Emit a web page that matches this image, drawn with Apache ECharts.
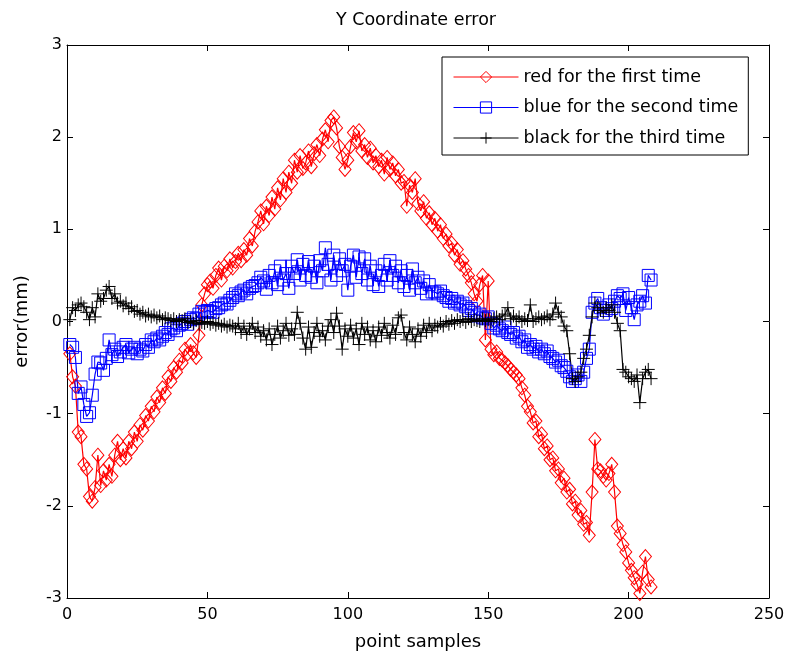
<!DOCTYPE html>
<html>
<head>
<meta charset="utf-8">
<script src="https://cdn.jsdelivr.net/npm/echarts@6/dist/echarts.min.js"></script>
<style>
html,body{margin:0;padding:0;background:#fff;}
#chart{width:790px;height:661px;}
</style>
</head>
<body>
<div id="chart"></div>
<script>
var titleText = 'Y Coordinate error';
var seriesNames = ['red for the first time', 'blue for the second time', 'black for the third time'];
var xTicks = [0, 50, 100, 150, 200, 250];
var yTicks = [-3, -2, -1, 0, 1, 2, 3];

var red = [
-0.35,-0.6,-0.7,-1.2,-1.25,-1.55,-1.6,-1.9,-1.95,-1.8,
-1.45,-1.78,-1.62,-1.72,-1.55,-1.68,-1.45,-1.3,-1.5,-1.38,
-1.48,-1.3,-1.38,-1.2,-1.3,-1.12,-1.18,-1.02,-1.08,-0.92,
-0.98,-0.82,-0.88,-0.72,-0.78,-0.6,-0.65,-0.5,-0.55,-0.42,
-0.45,-0.3,-0.35,-0.25,-0.34,-0.39,-0.15,0.18,0.3,0.4,
0.44,0.36,0.5,0.58,0.45,0.6,0.55,0.68,0.58,0.65,
0.74,0.66,0.78,0.72,0.9,0.82,0.98,1.08,1.2,1.06,
1.25,1.15,1.35,1.22,1.45,1.32,1.55,1.4,1.62,1.5,
1.75,1.62,1.8,1.66,1.72,1.85,1.68,1.82,1.92,1.8,
1.98,2.08,1.95,2.18,2.22,2.1,1.9,1.78,1.65,1.75,
1.9,2.05,1.95,2.07,1.85,1.92,1.78,1.88,1.72,1.8,
1.68,1.75,1.6,1.78,1.65,1.72,1.58,1.65,1.5,1.52,
1.25,1.48,1.4,1.55,1.28,1.2,1.3,1.12,1.18,1.05,
1.12,0.98,1.05,0.9,0.95,0.82,0.85,0.72,0.78,0.62,
0.66,0.57,0.5,0.42,0.3,0.22,0.4,0.5,-0.2,0.44,
-0.3,-0.36,-0.33,-0.4,-0.42,-0.45,-0.48,-0.52,-0.55,-0.58,
-0.62,-0.72,-0.8,-0.92,-0.98,-1.1,-1.08,-1.25,-1.22,-1.38,
-1.35,-1.5,-1.48,-1.62,-1.6,-1.75,-1.7,-1.85,-1.82,-1.98,
-1.95,-2.1,-2.05,-2.2,-2.18,-2.32,-1.85,-1.28,-1.6,-1.62,
-1.68,-1.72,-1.65,-1.55,-1.85,-2.22,-2.3,-2.42,-2.5,-2.62,
-2.7,-2.78,-2.85,-2.95,-2.72,-2.55,-2.8,-2.88
];

var blue = [
-0.25,-0.28,-0.39,-0.78,-0.71,-0.9,-1.03,-0.99,-0.8,-0.57,
-0.44,-0.45,-0.53,-0.4,-0.2,-0.36,-0.3,-0.38,-0.33,-0.28,
-0.25,-0.34,-0.3,-0.28,-0.35,-0.3,-0.32,-0.25,-0.28,-0.2,
-0.22,-0.18,-0.2,-0.16,-0.12,-0.14,-0.08,-0.07,-0.1,-0.04,
-0.02,0.0,-0.03,0.02,0.04,0.03,0.08,0.11,0.1,0.12,
0.11,0.1,0.14,0.15,0.18,0.2,0.19,0.23,0.26,0.3,
0.28,0.32,0.34,0.3,0.36,0.38,0.39,0.42,0.48,0.44,
0.35,0.5,0.42,0.55,0.4,0.6,0.45,0.52,0.36,0.6,
0.52,0.67,0.45,0.62,0.5,0.65,0.48,0.6,0.42,0.66,
0.55,0.8,0.62,0.45,0.72,0.5,0.68,0.55,0.62,0.34,
0.6,0.72,0.48,0.7,0.52,0.68,0.45,0.6,0.4,0.55,
0.38,0.5,0.62,0.45,0.66,0.5,0.6,0.42,0.55,0.38,
0.5,0.34,0.57,0.42,0.48,0.36,0.44,0.3,0.4,0.32,
0.32,0.3,0.33,0.28,0.26,0.22,0.25,0.2,0.22,0.18,
0.2,0.16,0.12,0.14,0.1,0.06,0.08,0.04,0.03,0.05,
-0.02,-0.07,-0.04,-0.08,-0.1,-0.06,-0.12,-0.14,-0.12,-0.18,
-0.16,-0.22,-0.2,-0.28,-0.25,-0.3,-0.27,-0.33,-0.3,-0.35,
-0.32,-0.38,-0.4,-0.44,-0.42,-0.48,-0.5,-0.54,-0.6,-0.65,
-0.62,-0.58,-0.65,-0.55,-0.4,-0.3,0.1,0.2,0.25,0.15,
0.08,0.12,0.18,0.14,0.22,0.28,0.25,0.3,0.12,0.26,
0.15,0.02,0.18,0.22,0.28,0.2,0.5,0.45
];

var black = [
0.02,0.15,0.12,0.18,0.2,0.16,0.1,0.02,0.15,0.05,
0.3,0.22,0.25,0.34,0.38,0.25,0.3,0.2,0.22,0.17,
0.2,0.14,0.16,0.11,0.12,0.08,0.1,0.06,0.08,0.05,
0.07,0.04,0.06,0.02,0.04,0.03,0.01,0.03,0.0,0.02,
0.01,0.03,-0.01,0.0,-0.02,0.01,-0.03,-0.01,-0.02,0.0,
-0.03,-0.01,-0.04,-0.02,-0.05,-0.03,-0.06,-0.04,-0.05,-0.08,
-0.02,-0.12,-0.05,-0.14,-0.08,-0.02,-0.12,-0.06,-0.16,-0.1,
-0.2,-0.08,-0.25,-0.14,-0.05,-0.18,-0.1,-0.02,-0.15,-0.08,
-0.14,0.1,-0.02,-0.18,-0.3,-0.06,-0.28,-0.12,-0.02,-0.16,
-0.1,-0.2,-0.05,0.02,-0.12,0.09,-0.05,-0.3,-0.08,-0.16,
-0.04,-0.18,-0.08,-0.25,-0.02,-0.14,-0.06,-0.2,-0.1,-0.22,
-0.06,-0.15,-0.02,-0.12,-0.18,-0.04,-0.14,0.04,0.07,-0.12,
-0.2,-0.06,-0.14,-0.22,-0.08,-0.16,-0.04,-0.12,-0.02,-0.1,
-0.04,-0.06,-0.02,-0.05,0.0,-0.03,0.01,-0.02,0.02,0.0,
0.02,-0.01,0.03,0.0,0.02,0.01,0.0,0.03,0.01,0.02,
0.0,0.03,0.05,0.02,0.06,0.08,0.15,0.03,0.06,0.02,
0.05,0.0,0.03,0.01,0.18,0.0,0.03,0.05,0.02,0.04,
0.06,0.02,0.08,0.2,0.1,0.05,-0.05,-0.1,-0.35,-0.62,
-0.65,-0.6,-0.55,-0.4,-0.3,-0.15,0.05,0.2,0.15,0.12,
0.1,0.15,0.12,0.18,0.1,-0.02,-0.1,-0.52,-0.55,-0.6,
-0.62,-0.65,-0.58,-0.88,-0.62,-0.55,-0.52,-0.62
];

function pairs(arr) {
  return arr.map(function (v, i) { return [i + 1, v]; });
}

var FONT = 'DejaVu Sans';
var chart = echarts.init(document.getElementById('chart'), null, { renderer: 'canvas' });

function axisCommon(showLabel) {
  return {
    axisLine: { show: true, onZero: false, lineStyle: { color: '#000', width: 1 } },
    axisTick: { show: true, inside: true, length: 6, lineStyle: { color: '#000', width: 1 } },
    splitLine: { show: false },
    axisLabel: { show: showLabel, color: '#000', fontFamily: FONT, fontSize: 16 }
  };
}

var xMain = Object.assign(axisCommon(true), {
  type: 'value', position: 'bottom', min: xTicks[0], max: xTicks[xTicks.length - 1], interval: 50,
  name: 'point samples', nameLocation: 'middle', nameGap: 35,
  nameTextStyle: { color: '#000', fontFamily: FONT, fontSize: 18 }
});
xMain.axisLabel.margin = 9;
var xTop = Object.assign(axisCommon(false), {
  type: 'value', position: 'top', min: xTicks[0], max: xTicks[xTicks.length - 1], interval: 50
});
var yMain = Object.assign(axisCommon(true), {
  type: 'value', position: 'left', min: yTicks[0], max: yTicks[yTicks.length - 1], interval: 1,
  name: 'error(mm)', nameLocation: 'middle', nameGap: 36,
  nameTextStyle: { color: '#000', fontFamily: FONT, fontSize: 18 }
});
yMain.axisLabel.margin = 5;
var yRight = Object.assign(axisCommon(false), {
  type: 'value', position: 'right', min: yTicks[0], max: yTicks[yTicks.length - 1], interval: 1
});

function mkSeries(name, data, color, symbol, size) {
  return {
    name: name, type: 'line', xAxisIndex: 0, yAxisIndex: 0,
    data: pairs(data),
    showAllSymbol: true,
    symbol: symbol, symbolSize: size,
    lineStyle: { color: color, width: 1.2 },
    itemStyle: { color: 'rgba(0,0,0,0)', borderColor: color, borderWidth: 1 },
    emphasis: { disabled: true },
    silent: true
  };
}

chart.setOption({
  animation: false,
  backgroundColor: '#fff',
  title: {
    text: titleText, left: 416, top: 11, padding: 0, textAlign: 'center',
    textStyle: { color: '#000', fontFamily: FONT, fontSize: 17.5, fontWeight: 'normal' }
  },
  grid: { left: 67, right: 21, top: 45, bottom: 63, containLabel: false },
  legend: {
    orient: 'vertical', left: 442, top: 57,
    padding: [10, 10, 7, 11],
    itemWidth: 65, itemHeight: 14, itemGap: 10.5,
    borderColor: '#000', borderWidth: 1, borderRadius: 0, backgroundColor: '#fff',
    textStyle: { color: '#000', fontFamily: FONT, fontSize: 17.5, lineHeight: 20 },
    itemStyle: { borderWidth: 1 },
    lineStyle: { width: 1 },
    data: seriesNames
  },
  xAxis: [xMain, xTop],
  yAxis: [yMain, yRight],
  series: [
    mkSeries(seriesNames[0], red, '#ff0000', 'diamond', [12, 14]),
    mkSeries(seriesNames[1], blue, '#0000ff', 'rect', [12, 12]),
    mkSeries(seriesNames[2], black, '#000000', 'path://M5,0V10M0,5H10', [13, 13])
  ]
});
</script>
</body>
</html>
